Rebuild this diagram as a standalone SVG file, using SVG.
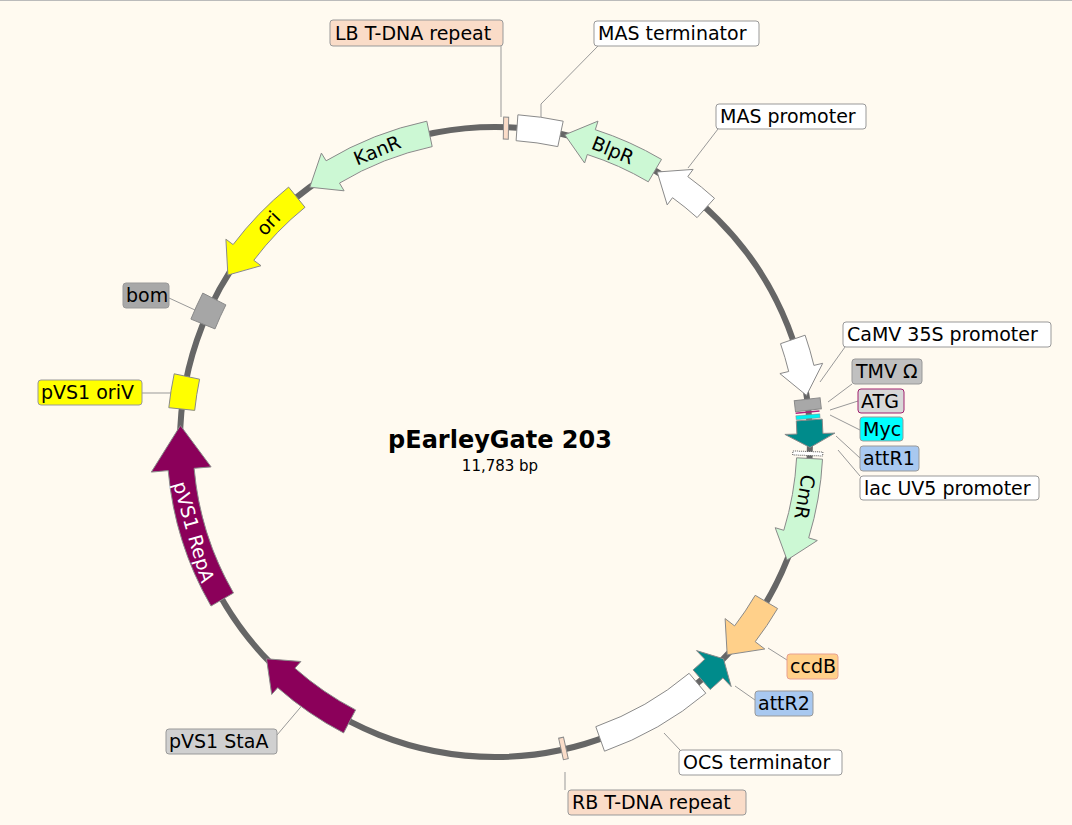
<svg xmlns="http://www.w3.org/2000/svg" width="1072" height="825" viewBox="0 0 1072 825">
<style>
.f{stroke:#8a8a8a;stroke-width:1}
.lb{stroke:#999;stroke-width:1;rx:3}
.t{font-family:"DejaVu Sans",Verdana,sans-serif;font-size:19px;fill:#000}
.ft{font-family:"DejaVu Sans",Verdana,sans-serif;font-size:19px;text-anchor:middle;dominant-baseline:central}
.ln{stroke:#999;stroke-width:1;fill:none}
</style>
<rect width="1072" height="825" fill="#fffaf0"/>
<line x1="0" y1="0.5" x2="1072" y2="0.5" stroke="#bbb"/>
<g id="backbone"><circle cx="495" cy="442" r="315" fill="none" stroke="#666" stroke-width="6"/></g>
<g id="connectors">
<polyline class="ln" points="501,46 501,117"/>
<polyline class="ln" points="598,46 541,104 541,117"/>
<polyline class="ln" points="718,129 688,168"/>
<polyline class="ln" points="845,347 820,382"/>
<polyline class="ln" points="852,384 828,402"/>
<polyline class="ln" points="858,401 830,410"/>
<polyline class="ln" points="860,430 830,415"/>
<polyline class="ln" points="860,458 836,436"/>
<polyline class="ln" points="860,476 838,450"/>
<polyline class="ln" points="787,660 768,648"/>
<polyline class="ln" points="755,700 735,686"/>
<polyline class="ln" points="680,750 664,733"/>
<polyline class="ln" points="565,790 565,772"/>
<polyline class="ln" points="277,735 305,702"/>
<polyline class="ln" points="142,393 172,393"/>
<polyline class="ln" points="169,298 195,310"/>
</g>
<g id="LB"><rect class="f" x="498" y="117" width="5" height="22" fill="#fadcc8" transform="rotate(1 495 442)"/>
<rect class="lb" x="330" y="20" width="173" height="26" fill="#fadcc8"/><text class="t" x="335" y="40">LB T-DNA repeat</text></g>
<g id="MASterm"><path class="f" fill="#fff" d="M517.9,114.8 A328,328 0 0 1 563.2,121.2 L557.8,146.6 A302,302 0 0 0 516.1,140.7 Z"/>
<rect class="lb" x="594" y="21" width="165" height="25" fill="#fff"/><text class="t" x="598" y="40">MAS terminator</text></g>
<g id="BlpR"><path class="f" fill="#ccf8d4" d="M661.5,159.4 A328,328 0 0 0 595.3,129.7 L598,121.1 L564.8,134.8 L584.6,163 L587.3,154.5 A302,302 0 0 1 648.3,181.8 Z"/>
<text class="ft" x="613" y="150" transform="rotate(22 613 150)">BlpR</text></g>
<g id="MASprom"><path class="f" fill="#fff" d="M714.5,198.3 A328,328 0 0 0 687.8,176.6 L693.1,169.4 L657.2,172 L667.2,204.9 L672.5,197.7 A302,302 0 0 1 697.1,217.6 Z"/>
<rect class="lb" x="716" y="104" width="150" height="25" fill="#fff"/><text class="t" x="720" y="123">MAS promoter</text></g>
<g id="CaMV"><path class="f" fill="#fff" d="M805.1,335.2 A328,328 0 0 1 813.9,365.4 L822.7,363.3 L806.5,395.4 L779.9,373.6 L788.7,371.5 A302,302 0 0 0 780.5,343.7 Z"/>
<rect class="lb" x="843" y="322" width="208" height="25" fill="#fff"/><text class="t" x="847" y="341">CaMV 35S promoter</text></g>
<g id="TMV"><rect class="f" x="489" y="114" width="11" height="26" fill="#a8a8a8" transform="rotate(83.3 495 442)"/>
<rect class="lb" x="852" y="359" width="70" height="25" fill="#c0c0c0"/><text class="t" x="856" y="378">TMV Ω</text></g>
<g id="ATG"><rect x="494" y="116" width="1.5" height="24" fill="#b0207a" transform="rotate(84.6 495 442)"/>
<rect class="lb" x="858" y="389" width="46" height="24" fill="#d8d8d8" style="stroke:#a0206e"/><text class="t" x="861" y="408">ATG</text></g>
<g id="Myc"><rect x="493" y="116" width="4" height="24" fill="#00f0f0" stroke="#888" stroke-width="0.5" transform="rotate(85.4 495 442)"/>
<rect class="lb" x="860" y="417" width="43" height="24" fill="#00ffff"/><text class="t" x="863" y="436">Myc</text></g>
<g id="attR1"><path class="f" fill="#008b8b" d="M822.2,419.1 L822.9,433.4 L834.9,433.1 L810,447.5 L784.9,434.4 L796.9,434.1 L796.3,420.9 Z"/>
<rect class="lb" x="860" y="446" width="59" height="25" fill="#a8c8f0"/><text class="t" x="863" y="465">attR1</text></g>
<g id="lacUV5"><rect x="493" y="114" width="4" height="30" fill="#fff" stroke="#555" stroke-width="1" stroke-dasharray="1 1" transform="rotate(92.1 495 442)"/>
<rect class="lb" x="860" y="476" width="179" height="24" fill="#fff"/><text class="t" x="864" y="495">lac UV5 promoter</text></g>
<g id="CmR"><path class="f" fill="#ccf8d4" d="M822.5,459.2 A328,328 0 0 1 808.7,537.9 L817.3,540.5 L787.1,560 L775.2,527.7 L783.8,530.3 A302,302 0 0 0 796.6,457.8 Z"/>
<text class="ft" x="805" y="497" transform="rotate(100 805 497)">CmR</text></g>
<g id="ccdB"><path class="f" fill="#ffd08a" d="M777.6,608.5 A328,328 0 0 1 755.2,641.7 L764.8,649 L727.2,654.8 L725.1,618.6 L734.6,625.9 A302,302 0 0 0 755.2,595.3 Z"/>
<rect class="lb" x="787" y="654" width="51" height="25" fill="#ffd08a" style="stroke:#e8a090"/><text class="t" x="790" y="673">ccdB</text></g>
<g id="attR2"><path class="f" fill="#008b8b" d="M710.2,689.5 A328,328 0 0 0 722.9,677.9 L731.2,686.6 L723.5,658.8 L696.5,650.6 L704.8,659.2 A302,302 0 0 1 693.1,669.9 Z"/>
<rect class="lb" x="755" y="691" width="58" height="25" fill="#a8c8f0"/><text class="t" x="758" y="710">attR2</text></g>
<g id="OCS"><path class="f" fill="#fff" d="M705.8,693.2 A328,328 0 0 1 604.5,751.2 L595.8,726.7 A302,302 0 0 0 689.1,673.3 Z"/>
<rect class="lb" x="679" y="750" width="163" height="25" fill="#fff"/><text class="t" x="683" y="769">OCS terminator</text></g>
<g id="RB"><rect class="f" x="492" y="117" width="5" height="22" fill="#fadcc8" transform="rotate(167.5 495 442)"/>
<rect class="lb" x="568" y="790" width="178" height="25" fill="#fadcc8"/><text class="t" x="572" y="809">RB T-DNA repeat</text></g>
<g id="StaA"><path class="f" fill="#8b005a" d="M343.6,732.9 A328,328 0 0 1 277.7,687.7 L271.7,694.4 L266.5,658.8 L300.9,661.5 L294.9,668.2 A302,302 0 0 0 355.6,709.9 Z"/>
<rect class="lb" x="166" y="729" width="111" height="25" fill="#d0d0d0"/><text class="t" x="169" y="748">pVS1 StaA</text></g>
<g id="RepA"><path class="f" fill="#8b005a" d="M211,606 A328,328 0 0 1 168.2,470.6 L151.3,472.1 L180.4,425.5 L211.1,466.9 L194.1,468.3 A302,302 0 0 0 233.5,593 Z"/>
<text class="ft" x="194" y="532" fill="#fff" transform="rotate(74 194 532)">pVS1 RepA</text></g>
<g id="oriV"><path class="f" fill="#ffff00" d="M168.8,407.7 A328,328 0 0 1 174.2,373.8 L199.6,379.2 A302,302 0 0 0 194.7,410.4 Z"/>
<rect class="lb" x="38" y="380" width="104" height="25" fill="#ffff00"/><text class="t" x="41" y="399">pVS1 oriV</text></g>
<g id="bom"><path class="f" fill="#a6a6a6" d="M190.9,319.1 A328,328 0 0 1 202.8,293.1 L225.9,304.9 A302,302 0 0 0 215,328.9 Z"/>
<rect class="lb" x="123" y="283" width="46" height="25" fill="#a8a8a8"/><text class="t" x="126" y="302">bom</text></g>
<g id="ori"><path class="f" fill="#ffff00" d="M288.6,187.1 A328,328 0 0 0 233.1,244.6 L225.9,239.2 L227.9,275.1 L261,265.7 L253.8,260.3 A302,302 0 0 1 305,207.3 Z"/>
<text class="ft" x="268" y="223" transform="rotate(-47 268 223)">ori</text></g>
<g id="KanR"><path class="f" fill="#ccf8d4" d="M426.8,121.2 A328,328 0 0 0 326.1,160.8 L321.4,153.1 L309.8,187.2 L344.1,190.8 L339.5,183.1 A302,302 0 0 1 432.2,146.6 Z"/>
<text class="ft" x="377" y="150" transform="rotate(-22 377 150)">KanR</text></g>
<g id="title">
<text x="500" y="448" text-anchor="middle" font-family="DejaVu Sans,Verdana,sans-serif" font-size="24" font-weight="bold">pEarleyGate 203</text>
<text x="500" y="471" text-anchor="middle" font-family="DejaVu Sans,Verdana,sans-serif" font-size="15">11,783 bp</text>
</g>
</svg>
